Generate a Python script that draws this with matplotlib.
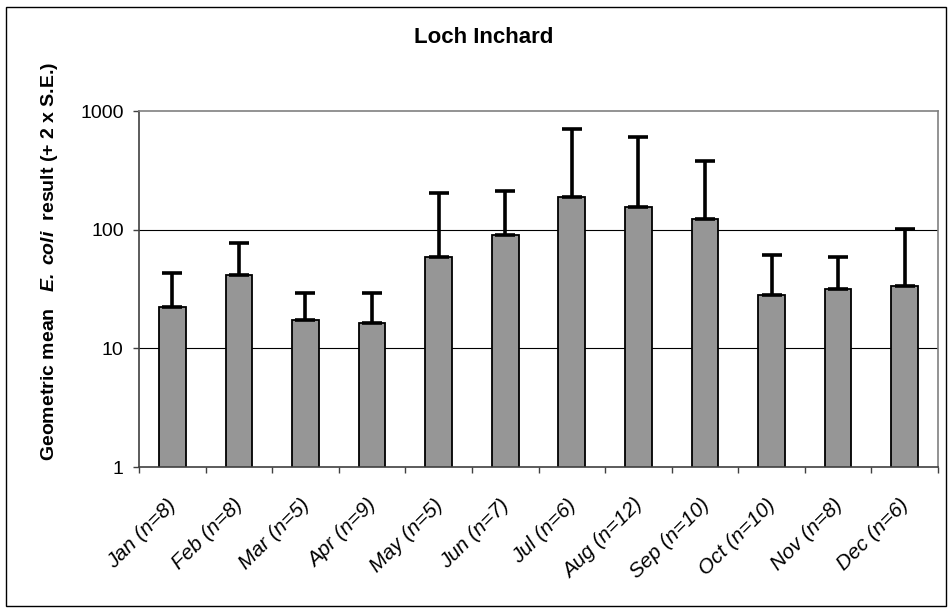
import numpy as np
import matplotlib.pyplot as plt
from matplotlib.patches import Rectangle

plt.rcParams['font.family'] = ['Liberation Sans', 'DejaVu Sans']
plt.rcParams['mathtext.fontset'] = 'custom'
plt.rcParams['mathtext.rm'] = 'Liberation Sans'
plt.rcParams['mathtext.it'] = 'Liberation Sans:italic'
plt.rcParams['mathtext.bf'] = 'Liberation Sans:bold'
plt.rcParams['mathtext.bfit'] = 'Liberation Sans:bold:italic'

# data
months = ["Jan", "Feb", "Mar", "Apr", "May", "Jun", "Jul", "Aug", "Sep", "Oct", "Nov", "Dec"]
n = [8, 8, 5, 9, 5, 7, 6, 12, 10, 10, 8, 6]
geo_mean = [22.3, 41.5, 17.5, 16.2, 58.8, 89.6, 187, 154, 123, 27.9, 31.4, 33.8]
upper = [42.8, 77, 29.2, 29.2, 202, 211, 700, 603, 376, 60.7, 58.8, 101]

labels = [f"{m} (n={k})" for m, k in zip(months, n)]
err = np.array(upper) - np.array(geo_mean)

fig = plt.figure(figsize=(9.48, 6.10), dpi=100)
ax = fig.add_axes([0.1466, 0.2344, 0.8429, 0.5836])

x = np.arange(len(months))
ax.bar(x, geo_mean, width=0.4, color="#969696", edgecolor="#000000", lw=1.3, zorder=2)
ax.errorbar(x, geo_mean, yerr=[np.zeros_like(err), err], fmt="none", ecolor="#000000",
            elinewidth=2.6, capsize=7, capthick=2.6, zorder=3)

ax.set_yscale("log")
ax.set_ylim(1, 1000)
ax.set_xlim(-0.5, len(months) - 0.5)
ax.set_yticks([1, 10, 100, 1000])
ax.set_yticklabels(["1", "10", "100", "1000"], fontsize=14)
ax.yaxis.set_minor_locator(plt.NullLocator())
ax.tick_params(axis="y", direction="out", length=4.5, width=1, color="#404040", pad=6.5)
for v in [10, 100]:
    ax.axhline(v, color="#000000", lw=0.8, zorder=1)

# ticks between categories, labels drawn separately
ax.set_xticks(np.arange(len(months) + 1) - 0.5)
ax.set_xticklabels([])
ax.tick_params(axis="x", direction="out", length=4.5, width=1, color="#404040")
for xi, lab in zip(x, labels):
    ax.text(xi - 0.08, -0.079, lab, rotation=45, ha="right", va="top", rotation_mode="anchor",
            fontsize=15, style="italic", transform=ax.get_xaxis_transform())

ax.spines["left"].set_color("#404040")
ax.spines["bottom"].set_color("#404040")
ax.spines["top"].set_color("#808080")
ax.spines["right"].set_color("#808080")
for s in ax.spines.values():
    s.set_linewidth(1.2)

fig.text(0.5105, 0.939, "Loch Inchard", ha="center", va="center", fontsize=16, weight="bold")
fig.text(0.0527, 0.572, r"Geometric mean   $\bfit{E.\ coli}$  result (+ 2 x S.E.)",
         rotation=90, ha="center", va="center", fontsize=14, weight="bold")

fig.patches.append(Rectangle((0.006, 0.006), 0.992, 0.982, transform=fig.transFigure,
                             fill=False, edgecolor="#000000", lw=1.0))

plt.savefig("out.png", dpi=100)
